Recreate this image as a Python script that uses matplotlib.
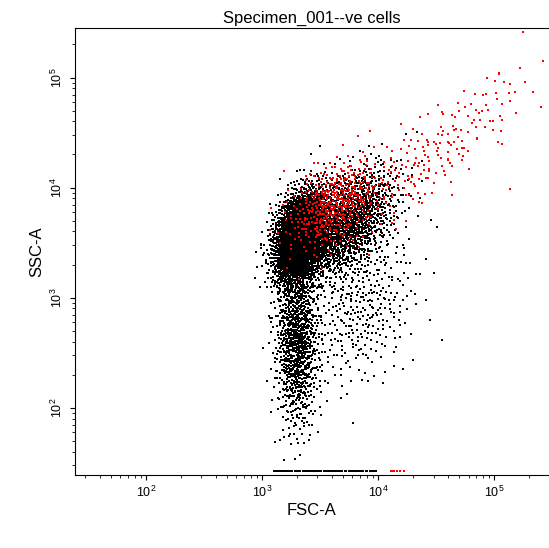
import numpy as np
import matplotlib
matplotlib.use("Agg")
import matplotlib.pyplot as plt
from matplotlib.ticker import LogLocator, FixedLocator

plt.rcParams["font.family"] = ["Liberation Sans", "DejaVu Sans"]

# Populations: (log10 FSC centre, log10 SSC centre, sdx, sdy, corr, count)
black_pops = [
    (3.33, 3.55, 0.11, 0.20, 0.3, 3600),
    (3.30, 2.60, 0.09, 0.38, 0.0, 1000),
    (3.70, 3.65, 0.22, 0.25, 0.5, 1600),
    (3.85, 2.90, 0.25, 0.35, 0.3, 350),
]
red_pops = [
    (3.62, 3.85, 0.20, 0.20, 0.4, 450),
    (4.35, 4.20, 0.35, 0.32, 0.75, 170),
    (4.95, 4.75, 0.25, 0.25, 0.7, 35),
]
floor_black = (3.10, 4.00, 80)   # x range (log) and count of events piled at SSC floor
floor_red = (4.10, 4.25, 6)
ssc_floor = 10 ** 1.43

def halton(n, b):
    out = np.empty(n)
    for i in range(n):
        f, r, k = 1.0, 0.0, i + 1
        while k > 0:
            f /= b
            r += f * (k % b)
            k //= b
        out[i] = r
    return out

def pop_points(pops, offset):
    xs, ys = [], []
    for j, (cx, cy, sx, sy, rho, n) in enumerate(pops):
        u1 = halton(n + offset, 2)[offset:]
        u2 = halton(n + offset, 3)[offset:]
        u1 = np.clip(u1, 1e-6, 1)
        r = np.sqrt(-2 * np.log(u1))
        z1 = r * np.cos(2 * np.pi * u2)
        z2 = r * np.sin(2 * np.pi * u2)
        x = cx + sx * z1
        y = cy + sy * (rho * z1 + np.sqrt(1 - rho ** 2) * z2)
        xs.append(x); ys.append(y)
        offset += n
    return 10 ** np.concatenate(xs), 10 ** np.concatenate(ys)

bx, by = pop_points(black_pops, 7)
rx, ry = pop_points(red_pops, 20000)
fbx = 10 ** (floor_black[0] + (floor_black[1] - floor_black[0]) * halton(floor_black[2], 5))
frx = 10 ** (floor_red[0] + (floor_red[1] - floor_red[0]) * halton(floor_red[2], 5))

fig = plt.figure(figsize=(5.49, 5.48), dpi=100)
ax = fig.add_axes([75/549, 73/548, 474/549, 447/548])
kw = dict(s=0.9, marker="s", linewidths=0)
ax.scatter(bx, np.maximum(by, ssc_floor), c="black", **kw)
ax.scatter(fbx, np.full_like(fbx, ssc_floor), c="black", **kw)
ax.scatter(rx, np.maximum(ry, ssc_floor), c="red", **kw)
ax.scatter(frx, np.full_like(frx, ssc_floor), c="red", **kw)
ax.set_xscale("log"); ax.set_yscale("log")
ax.set_xlim(10 ** 1.39, 10 ** 5.47)
ax.set_ylim(10 ** 1.39, 10 ** 5.45)
ax.spines["right"].set_visible(False)
ax.xaxis.set_major_locator(FixedLocator([1e2, 1e3, 1e4, 1e5]))
ax.yaxis.set_major_locator(FixedLocator([1e2, 1e3, 1e4, 1e5]))
ax.xaxis.set_minor_locator(LogLocator(base=10, subs=np.arange(2, 10)))
ax.yaxis.set_minor_locator(LogLocator(base=10, subs=np.arange(2, 10)))
ax.tick_params(labelsize=9)
for lab in ax.get_yticklabels():
    lab.set_rotation(90); lab.set_va("center")
ax.set_xlabel("FSC-A", fontsize=12, labelpad=2)
ax.set_ylabel("SSC-A", fontsize=12)
ax.set_title("Specimen_001--ve cells", fontsize=12, pad=4)
fig.savefig("out.png", dpi=100)
